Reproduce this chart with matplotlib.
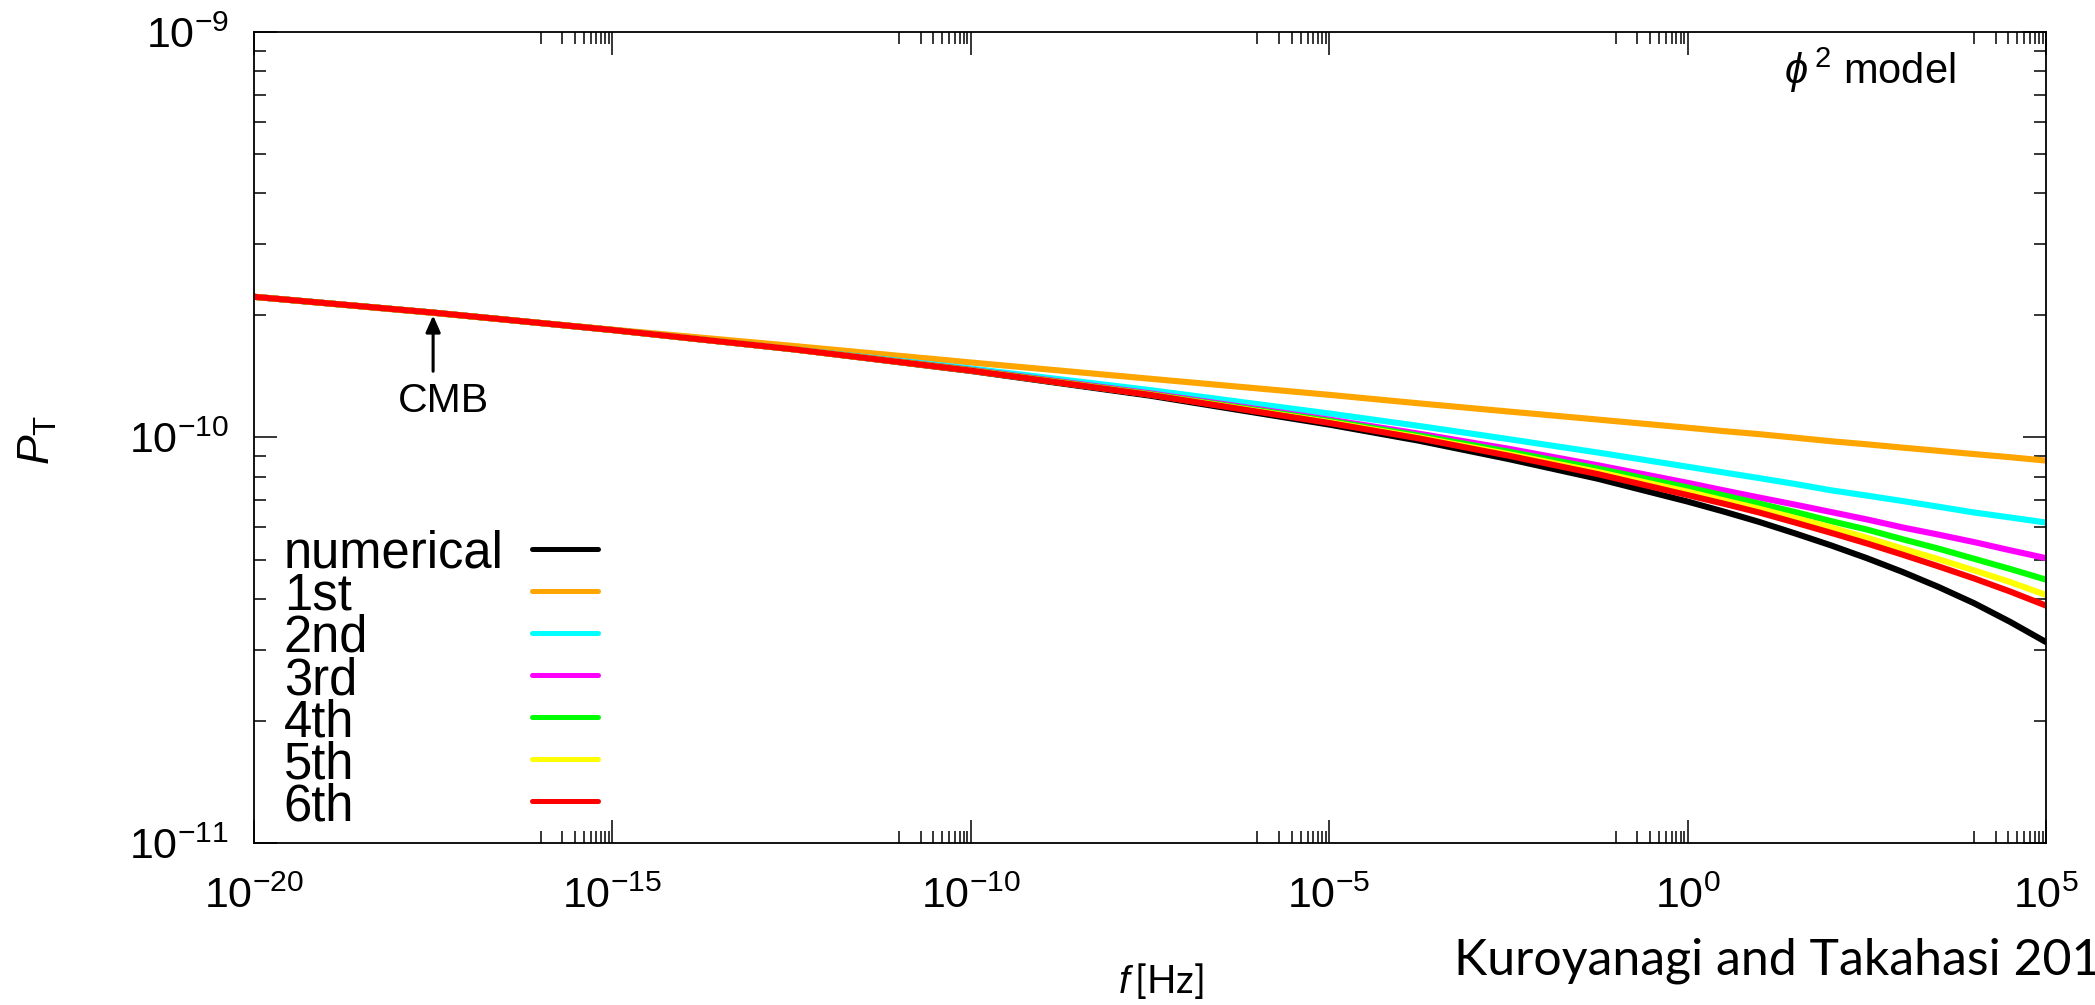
import numpy as np
import matplotlib
matplotlib.use("Agg")
import matplotlib.pyplot as plt
from matplotlib import font_manager
from matplotlib.ticker import FixedLocator, FuncFormatter, NullFormatter

log_f = [-20, -17.5, -15, -12.5, -10, -7.5, -5, -3.75, -2.5, -1.25, 0,
         0.5, 1, 1.5, 2, 2.5, 3, 3.5, 4, 4.5, 5]

# P_T in units of 1e-10
pt_numerical = [2.223, 2.032, 1.841, 1.652, 1.459, 1.268, 1.076, 0.982, 0.885, 0.791, 0.695,
                0.657, 0.619, 0.580, 0.542, 0.504, 0.466, 0.428, 0.390, 0.351, 0.313]
pt_1st = [2.223, 2.028, 1.845, 1.683, 1.531, 1.396, 1.274, 1.214, 1.159, 1.107, 1.057,
          1.037, 1.019, 0.999, 0.979, 0.962, 0.944, 0.927, 0.910, 0.894, 0.877]
pt_2nd = [2.223, 2.032, 1.841, 1.652, 1.479, 1.309, 1.146, 1.068, 0.991, 0.918, 0.847,
          0.820, 0.794, 0.768, 0.741, 0.719, 0.697, 0.675, 0.653, 0.635, 0.617]
pt_3rd = [2.223, 2.032, 1.841, 1.652, 1.469, 1.285, 1.107, 1.022, 0.938, 0.854, 0.773,
          0.741, 0.711, 0.683, 0.655, 0.628, 0.600, 0.576, 0.552, 0.527, 0.504]
pt_4th = [2.223, 2.032, 1.841, 1.652, 1.466, 1.279, 1.099, 1.011, 0.923, 0.838, 0.753,
          0.720, 0.687, 0.655, 0.622, 0.593, 0.561, 0.532, 0.502, 0.474, 0.446]
pt_5th = [2.223, 2.032, 1.841, 1.652, 1.462, 1.276, 1.091, 1.001, 0.910, 0.822, 0.735,
          0.700, 0.667, 0.633, 0.600, 0.566, 0.532, 0.501, 0.470, 0.440, 0.409]
pt_6th = [2.223, 2.032, 1.841, 1.652, 1.462, 1.274, 1.086, 0.995, 0.902, 0.812, 0.721,
          0.687, 0.653, 0.617, 0.582, 0.548, 0.514, 0.481, 0.449, 0.417, 0.385]

labels = ["numerical", "1st", "2nd", "3rd", "4th", "5th", "6th"]
colors = ["#000000", "#ffa500", "#00ffff", "#ff00ff", "#00ff00", "#ffff00", "#ff0000"]
series = [pt_numerical, pt_1st, pt_2nd, pt_3rd, pt_4th, pt_5th, pt_6th]

# CMB scale marker
cmb_logf = -17.5
cmb_pt = 2.0

names = {f.name for f in font_manager.fontManager.ttflist}
tick_font = "Liberation Sans Narrow" if "Liberation Sans Narrow" in names else "Liberation Sans"

plt.rcParams["font.family"] = "Liberation Sans"
plt.rcParams["mathtext.fontset"] = "custom"
plt.rcParams["mathtext.rm"] = tick_font
plt.rcParams["mathtext.it"] = "Liberation Sans:italic"
plt.rcParams["mathtext.bf"] = "Liberation Sans:bold"

fig = plt.figure(figsize=(20.95, 10.05), dpi=100)
ax = fig.add_axes([0.1212, 0.1612, 0.8554, 0.8070])

freq = 10.0 ** np.array(log_f)
for vals, col in zip(series, colors):
    ax.plot(freq, np.array(vals) * 1e-10, color=col, lw=4.4, solid_capstyle="round",
            solid_joinstyle="round")

ax.set_xscale("log")
ax.set_yscale("log")
ax.set_xlim(1e-20, 1e5)
ax.set_ylim(1e-11, 1e-9)

# gnuplot style ticks
ax.xaxis.set_major_locator(FixedLocator([10.0 ** e for e in range(-20, 6, 5)]))
ax.xaxis.set_minor_locator(FixedLocator([k * 10.0 ** (e - 1) for e in range(-15, 6, 5) for k in range(1, 10)]))
ax.yaxis.set_major_locator(FixedLocator([1e-11, 1e-10, 1e-9]))
ax.yaxis.set_minor_locator(FixedLocator([k * 10.0 ** e for e in (-11, -10) for k in range(2, 10)]))
fmt = FuncFormatter(lambda v, pos: r"$10^{%d}$" % round(np.log10(v)))
ax.xaxis.set_major_formatter(fmt)
ax.yaxis.set_major_formatter(fmt)
ax.xaxis.set_minor_formatter(NullFormatter())
ax.yaxis.set_minor_formatter(NullFormatter())
ax.tick_params(which="both", direction="in", top=True, right=True, width=1.1, labelsize=31)
ax.tick_params(which="major", length=16.5)
ax.tick_params(which="minor", length=8.4)
ax.tick_params(axis="x", which="major", pad=24)
ax.tick_params(axis="y", which="major", pad=18)
for s in ax.spines.values():
    s.set_linewidth(1.3)

ax.set_ylabel(r"$P_{\mathrm{T}}$", fontsize=32)
ax.yaxis.label.set_rotation_mode("default")
ax.yaxis.label.set_va("center")
ax.yaxis.label.set_ha("center")
ax.yaxis.set_label_coords(-0.1205, 0.497)

ax.set_xlabel(r"$f\,$[Hz]", fontsize=28, family="Lato")
ax.xaxis.set_label_coords(0.506, -0.146)

# legend drawn gnuplot style: text left, sample on the right
for i, (lab, col) in enumerate(zip(labels, colors)):
    yy = 0.3625 - i * 0.0518
    ax.plot([0.1551, 0.192], [yy, yy], color=col, lw=3.6, solid_capstyle="round",
            transform=ax.transAxes)
    ax.text(0.0167, yy - 0.0234, lab, transform=ax.transAxes, fontsize=36.5,
            ha="left", va="baseline")

ax.text(0.854, 0.953, r"$\phi^{\,2}$ model", transform=ax.transAxes, fontsize=30,
        ha="left", va="center")

ax.annotate("CMB", xy=(10.0 ** cmb_logf, cmb_pt * 1e-10), xytext=(7.2, -69.8),
            textcoords="offset points", ha="center", va="baseline", fontsize=29.5,
            arrowprops=dict(arrowstyle="-|>,head_length=0.5,head_width=0.22",
                            mutation_scale=20, lw=2.2, color="black",
                            shrinkA=6, shrinkB=0, relpos=(0.39, 1.0)))

fig.text(1454 / 2095, 1 - 974 / 1005, "Kuroyanagi and Takahasi 2011", fontsize=36,
         family="Lato", ha="left", va="baseline")

fig.savefig("out.png", dpi=100)
